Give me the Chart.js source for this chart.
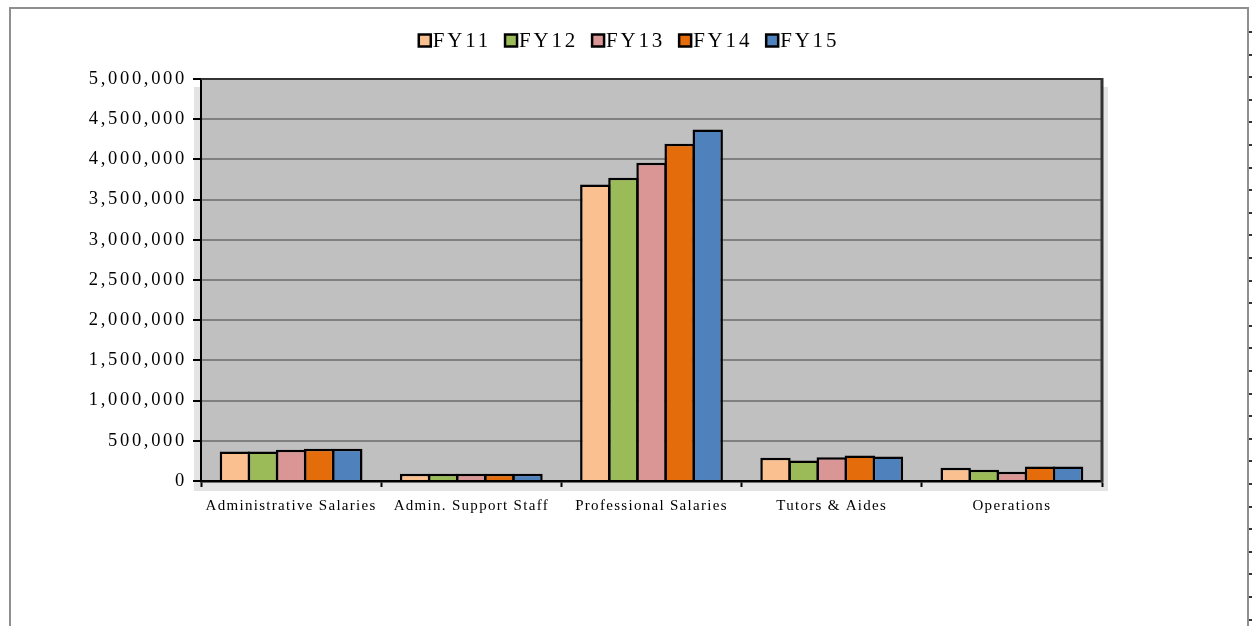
<!DOCTYPE html>
<html>
<head>
<meta charset="utf-8">
<script src="https://cdn.jsdelivr.net/npm/chart.js@4/dist/chart.umd.min.js"></script>
<style>
  html, body { margin: 0; padding: 0; background: #ffffff; }
  #wrap { width: 1252px; height: 626px; }
</style>
</head>
<body>
<div id="wrap"><canvas id="c" width="1252" height="626"></canvas></div>
<script>
// Budget categories and yearly spending (dollars)
const categories = ['Administrative Salaries', 'Admin. Support Staff', 'Professional Salaries', 'Tutors & Aides', 'Operations'];
const years = ['FY11', 'FY12', 'FY13', 'FY14', 'FY15'];
const fy11 = [367000, 90000, 3688000, 289000, 164000];
const fy12 = [367000, 90000, 3771000, 255000, 139000];
const fy13 = [388000, 90000, 3958000, 296000, 114000];
const fy14 = [400000, 90000, 4194000, 317000, 180000];
const fy15 = [400000, 90000, 4372000, 305000, 180000];
const yTicks = [0, 500000, 1000000, 1500000, 2000000, 2500000, 3000000, 3500000, 4000000, 4500000, 5000000];

const seriesValues = [fy11, fy12, fy13, fy14, fy15];
const seriesColors = ['#FAC090', '#9BBB59', '#D99694', '#E46C0A', '#4F81BD'];

const SERIF = "'Liberation Serif', 'Times New Roman', serif";

// Page frame, plot shadow and plot background
const framePlugin = {
  id: 'frame',
  beforeDraw(chart) {
    const ctx = chart.ctx;
    const a = chart.chartArea;
    ctx.save();
    ctx.fillStyle = '#ffffff';
    ctx.fillRect(0, 0, chart.width, chart.height);
    // outer frame
    ctx.strokeStyle = '#8f8f8f';
    ctx.lineWidth = 2;
    ctx.beginPath();
    ctx.moveTo(10, chart.height + 2);
    ctx.lineTo(10, 8);
    ctx.lineTo(1248, 8);
    ctx.lineTo(1248, chart.height + 2);
    ctx.stroke();
    // small marks along the right edge
    ctx.fillStyle = '#333333';
    for (let y = 31; y < chart.height; y += 22.6) {
      ctx.fillRect(1249, Math.round(y), 3, 2);
    }
    // soft shadow around plot
    ctx.fillStyle = '#e3e3e3';
    ctx.fillRect(a.left - 7, a.top + 8, a.right - a.left + 13, a.bottom - a.top + 2);
    ctx.fillRect(a.left - 7, a.bottom, a.right - a.left + 13, 10);
    // plot background
    ctx.fillStyle = '#C0C0C0';
    ctx.fillRect(a.left, a.top, a.right - a.left, a.bottom - a.top);
    ctx.restore();
  },
  afterDraw(chart) {
    const ctx = chart.ctx;
    const a = chart.chartArea;
    ctx.save();
    ctx.strokeStyle = '#333333';
    ctx.lineWidth = 2;
    ctx.beginPath();
    ctx.moveTo(a.left, a.top);
    ctx.lineTo(a.right, a.top);
    ctx.stroke();
    ctx.lineWidth = 3;
    ctx.beginPath();
    ctx.moveTo(a.right, a.top - 1);
    ctx.lineTo(a.right, a.bottom + 1);
    ctx.stroke();
    ctx.restore();

    // legend row
    const ds = chart.data.datasets;
    ctx.save();
    ctx.font = '21px ' + SERIF;
    ctx.letterSpacing = '2.8px';
    ctx.textBaseline = 'middle';
    ctx.textAlign = 'left';
    const box = 12, gapText = 2, gapItem = 14;
    const widths = ds.map(d => box + gapText + ctx.measureText(d.label).width);
    const total = widths.reduce((s, w) => s + w, 0) + gapItem * (ds.length - 1);
    let x = 629 - total / 2;
    const yMid = 40.5;
    ds.forEach((d, i) => {
      ctx.fillStyle = d.backgroundColor;
      ctx.fillRect(x, yMid - box / 2, box, box);
      ctx.strokeStyle = '#000000';
      ctx.lineWidth = 2.5;
      ctx.strokeRect(x, yMid - box / 2, box, box);
      ctx.fillStyle = '#000000';
      ctx.fillText(d.label, x + box + gapText, yMid + 1);
      x += widths[i] + gapItem;
    });
    ctx.restore();
  }
};

// Wider letter spacing for the axis labels
const spacingPlugin = {
  id: 'labelSpacing',
  afterLayout(chart) {
    const spacing = { x: '1.3px', y: '2.7px' };
    Object.values(chart.scales).forEach(scale => {
      if (scale._spacedLabels) return;
      const orig = scale.drawLabels;
      scale.drawLabels = function (area) {
        const ctx = this.ctx;
        ctx.save();
        ctx.letterSpacing = spacing[this.id] || '0px';
        orig.call(this, area);
        ctx.restore();
      };
      scale._spacedLabels = true;
    });
  }
};

new Chart(document.getElementById('c'), {
  type: 'bar',
  data: {
    labels: categories,
    datasets: years.map((y, i) => ({
      label: y,
      data: seriesValues[i],
      backgroundColor: seriesColors[i],
      borderColor: '#000000',
      borderWidth: 2.5,
      borderSkipped: 'bottom',
      categoryPercentage: 0.78,
      barPercentage: 1.08
    }))
  },
  options: {
    responsive: false,
    devicePixelRatio: 1,
    animation: false,
    layout: { padding: { left: 0, right: 150, top: 79, bottom: 0 } },
    plugins: {
      legend: { display: false },
      title: { display: false },
      tooltip: { enabled: false }
    },
    scales: {
      x: {
        grid: {
          display: true,
          drawOnChartArea: false,
          drawTicks: true,
          tickLength: 6,
          tickColor: '#000000',
          tickWidth: 2
        },
        border: { display: true, color: '#000000', width: 2.5 },
        ticks: {
          color: '#000000',
          font: { family: SERIF, size: 15 },
          maxRotation: 0,
          autoSkip: false,
          padding: 10
        },
        afterFit(scale) { scale.height = 145; }
      },
      y: {
        min: 0,
        max: 5000000,
        afterBuildTicks(scale) { scale.ticks = yTicks.map(v => ({ value: v })); },
        grid: {
          color: '#808080',
          lineWidth: 2,
          drawTicks: true,
          tickLength: 8,
          tickColor: '#000000',
          tickWidth: 2
        },
        border: { display: true, color: '#000000', width: 2 },
        ticks: {
          color: '#000000',
          font: { family: SERIF, size: 18.5 },
          padding: 6,
          callback: v => Number(v).toLocaleString('en-US')
        },
        afterFit(scale) { scale.width = 201; }
      }
    }
  },
  plugins: [framePlugin, spacingPlugin]
});
</script>
</body>
</html>
